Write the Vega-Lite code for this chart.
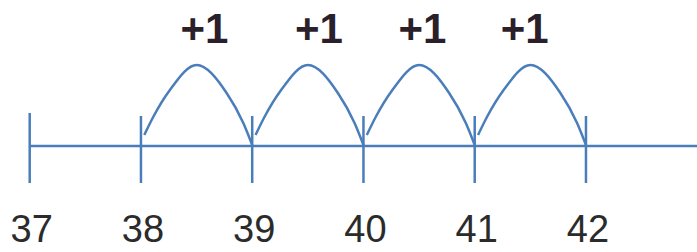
{
  "$schema": "https://vega.github.io/schema/vega-lite/v6.json",
  "width": 697,
  "height": 252,
  "autosize": {"type": "none"},
  "padding": 0,
  "background": "white",
  "config": {"view": {"stroke": null}},
  "datasets": {
    "ticks": [
      {"n": 37, "lo": -37, "hi": 33},
      {"n": 38, "lo": -37, "hi": 30},
      {"n": 39, "lo": -37, "hi": 30},
      {"n": 40, "lo": -37, "hi": 30},
      {"n": 41, "lo": -37, "hi": 30},
      {"n": 42, "lo": -37, "hi": 30}
    ],
    "axisline": [{"from": 37, "to": 43, "h": 0}],
    "arcs": [
      {"jump": 1, "x": 38.03, "h": 11}, {"jump": 1, "x": 38.11, "h": 29}, {"jump": 1, "x": 38.26, "h": 56}, {"jump": 1, "x": 38.5, "h": 81}, {"jump": 1, "x": 38.77, "h": 53}, {"jump": 1, "x": 38.92, "h": 23}, {"jump": 1, "x": 39.0, "h": 1},
      {"jump": 2, "x": 39.03, "h": 11}, {"jump": 2, "x": 39.11, "h": 29}, {"jump": 2, "x": 39.26, "h": 56}, {"jump": 2, "x": 39.5, "h": 81}, {"jump": 2, "x": 39.77, "h": 53}, {"jump": 2, "x": 39.92, "h": 23}, {"jump": 2, "x": 40.0, "h": 1},
      {"jump": 3, "x": 40.03, "h": 11}, {"jump": 3, "x": 40.11, "h": 29}, {"jump": 3, "x": 40.26, "h": 56}, {"jump": 3, "x": 40.5, "h": 81}, {"jump": 3, "x": 40.77, "h": 53}, {"jump": 3, "x": 40.92, "h": 23}, {"jump": 3, "x": 41.0, "h": 1},
      {"jump": 4, "x": 41.03, "h": 11}, {"jump": 4, "x": 41.11, "h": 29}, {"jump": 4, "x": 41.26, "h": 56}, {"jump": 4, "x": 41.5, "h": 81}, {"jump": 4, "x": 41.77, "h": 53}, {"jump": 4, "x": 41.92, "h": 23}, {"jump": 4, "x": 42.0, "h": 1}
    ],
    "steps": [
      {"x": 38.57, "h": 116, "label": "+1"},
      {"x": 39.6, "h": 116, "label": "+1"},
      {"x": 40.53, "h": 116, "label": "+1"},
      {"x": 41.45, "h": 116, "label": "+1"}
    ]
  },
  "layer": [
    {
      "data": {"name": "axisline"},
      "mark": {"type": "rule", "color": "#4a7ebb", "strokeWidth": 2.5},
      "encoding": {
        "x": {"field": "from", "type": "quantitative", "scale": {"domain": [36.733, 42.998], "nice": false, "zero": false}, "axis": null},
        "x2": {"field": "to"},
        "y": {"field": "h", "type": "quantitative", "scale": {"domain": [-106, 146], "nice": false, "zero": false}, "axis": null}
      }
    },
    {
      "data": {"name": "ticks"},
      "mark": {"type": "rule", "color": "#4a7ebb", "strokeWidth": 2.5},
      "encoding": {
        "x": {"field": "n", "type": "quantitative"},
        "y": {"field": "lo", "type": "quantitative"},
        "y2": {"field": "hi"}
      }
    },
    {
      "data": {"name": "arcs"},
      "mark": {"type": "line", "color": "#4a7ebb", "strokeWidth": 2.5, "interpolate": "monotone"},
      "encoding": {
        "x": {"field": "x", "type": "quantitative"},
        "y": {"field": "h", "type": "quantitative"},
        "detail": {"field": "jump"}
      }
    },
    {
      "data": {"name": "ticks"},
      "mark": {"type": "text", "font": "Liberation Sans", "fontSize": 38, "color": "#2b2b2b", "baseline": "alphabetic", "align": "center", "dx": 2},
      "encoding": {
        "x": {"field": "n", "type": "quantitative"},
        "y": {"datum": -96, "type": "quantitative"},
        "text": {"field": "n", "type": "nominal"}
      }
    },
    {
      "data": {"name": "steps"},
      "mark": {"type": "text", "font": "Liberation Sans", "fontSize": 42, "fontWeight": "bold", "color": "#2a1f2a", "baseline": "middle", "align": "center"},
      "encoding": {
        "x": {"field": "x", "type": "quantitative"},
        "y": {"field": "h", "type": "quantitative"},
        "text": {"field": "label", "type": "nominal"}
      }
    }
  ]
}
